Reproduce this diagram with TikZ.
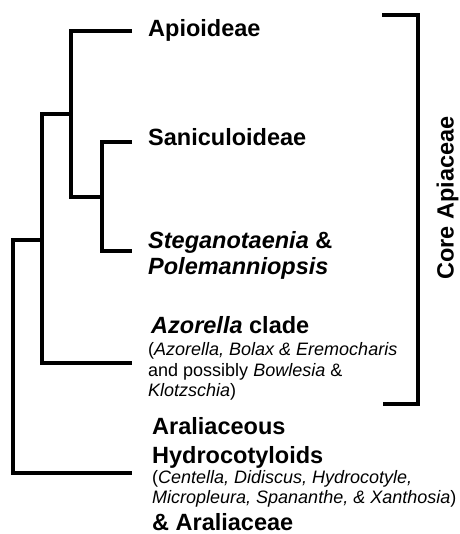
\documentclass[tikz,border=0pt]{standalone}
\usepackage{fontspec}
\setmainfont{Liberation Sans}
\begin{document}
\begin{tikzpicture}[x=1pt,y=-1pt,
  branch/.style={line width=4pt, line join=miter, line cap=butt},
  big/.style={inner sep=0pt, anchor=base west, font=\fontsize{23.5}{26}\selectfont\bfseries},
  small/.style={inner sep=0pt, anchor=base west, font=\fontsize{18}{20.5}\selectfont}]
\useasboundingbox (0,0) rectangle (459,534);
% tips
\coordinate (tA) at (132,31);
\coordinate (tS) at (132,142);
\coordinate (tT) at (132,251);
\coordinate (tZ) at (132,363);
\coordinate (tR) at (132,472.5);
% internal nodes
\coordinate (n1) at (101.5,197);
\coordinate (n2) at (71,114);
\coordinate (n3) at (42,240);
\coordinate (r) at (12.5,472.5);
\draw[branch] (tA) -| (n2) |- (n1);
\draw[branch] (tS) -| (n1) |- (tT);
\draw[branch] (n2) -| (n3) |- (tZ);
\draw[branch] (n3) -| (r) -- (tR);
% bracket
\coordinate (bt) at (382,15);
\coordinate (btr) at (417.5,15);
\coordinate (bb) at (383,404);
\draw[branch] (bt) -- (btr) |- (bb);
\node[rotate=90, anchor=base, inner sep=0pt, font=\fontsize{23.5}{26}\selectfont\bfseries] (core) at (453.5,198) {Core Apiaceae};
% labels
\node[big] (lA) at (148,37) {Apioideae};
\node[big] (lS) at (148,146) {Saniculoideae};
\node[big] (lT1) at (148,248) {\itshape Steganotaenia \upshape\&};
\node[big] (lT2) at (148,274) {\itshape Polemanniopsis};
\node[big] (lZ) at (151,333) {\textit{Azorella} clade};
\node[small] (lZ1) at (148,355) {(\textit{Azorella, Bolax \& Eremocharis}};
\node[small] (lZ2) at (148,376) {and possibly \textit{Bowlesia} \&};
\node[small] (lZ3) at (148,396) {\textit{Klotzschia})};
\node[big] (lR1) at (152,434) {Araliaceous};
\node[big] (lR2) at (152,463) {Hydrocotyloids};
\node[small] (lR3) at (152,483) {(\textit{Centella, Didiscus, Hydrocotyle,}};
\node[small] (lR4) at (152,503) {\textit{Micropleura, Spananthe, \& Xanthosia})};
\node[big] (lR5) at (152,530) {\& Araliaceae};
\end{tikzpicture}
\end{document}
